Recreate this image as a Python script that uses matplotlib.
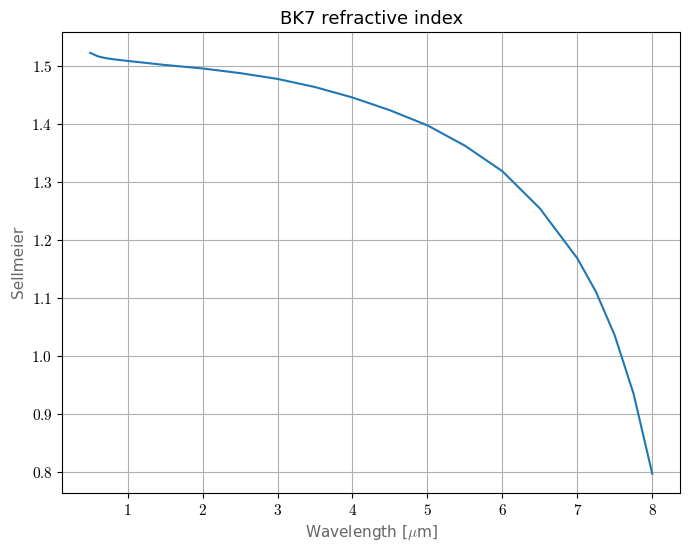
import matplotlib
matplotlib.use("Agg")
import matplotlib.pyplot as plt
from matplotlib.ticker import FuncFormatter

# values
wavelength = [0.5, 0.55, 0.6, 0.7, 0.8, 1.0, 1.5, 2.0, 2.5, 3.0, 3.5, 4.0, 4.5,
              5.0, 5.5, 6.0, 6.5, 7.0, 7.25, 7.5, 7.75, 8.0]
sellmeier = [1.522, 1.519, 1.516, 1.513, 1.511, 1.508, 1.501, 1.495, 1.487, 1.477,
             1.463, 1.445, 1.423, 1.397, 1.362, 1.318, 1.254, 1.168, 1.110, 1.035,
             0.935, 0.797]

plt.rcParams["mathtext.fontset"] = "cm"

fig = plt.figure(figsize=(6.9, 5.5), dpi=100)
ax = fig.add_axes([0.09, 0.104, 0.896, 0.838])
ax.plot(wavelength, sellmeier, color="#1f77b4", lw=1.5)
ax.grid(True, color="#b0b0b0")
ax.set_xticks(range(1, 9))
ax.set_yticks([0.8, 0.9, 1.0, 1.1, 1.2, 1.3, 1.4, 1.5])
ax.xaxis.set_major_formatter(FuncFormatter(lambda v, p: f"${v:.0f}$"))
ax.yaxis.set_major_formatter(FuncFormatter(lambda v, p: f"${v:.1f}$"))
ax.tick_params(labelsize=11)
ax.set_xlim(0.125, 8.375)
ax.set_ylim(0.764, 1.558)
ax.set_title("BK7 refractive index", fontsize=13)
ax.set_xlabel(r"Wavelength [$\mu$m]", color="#666666", fontsize=11)
ax.set_ylabel("Sellmeier", color="#666666", fontsize=11)

fig.savefig("out.png", dpi=100)
